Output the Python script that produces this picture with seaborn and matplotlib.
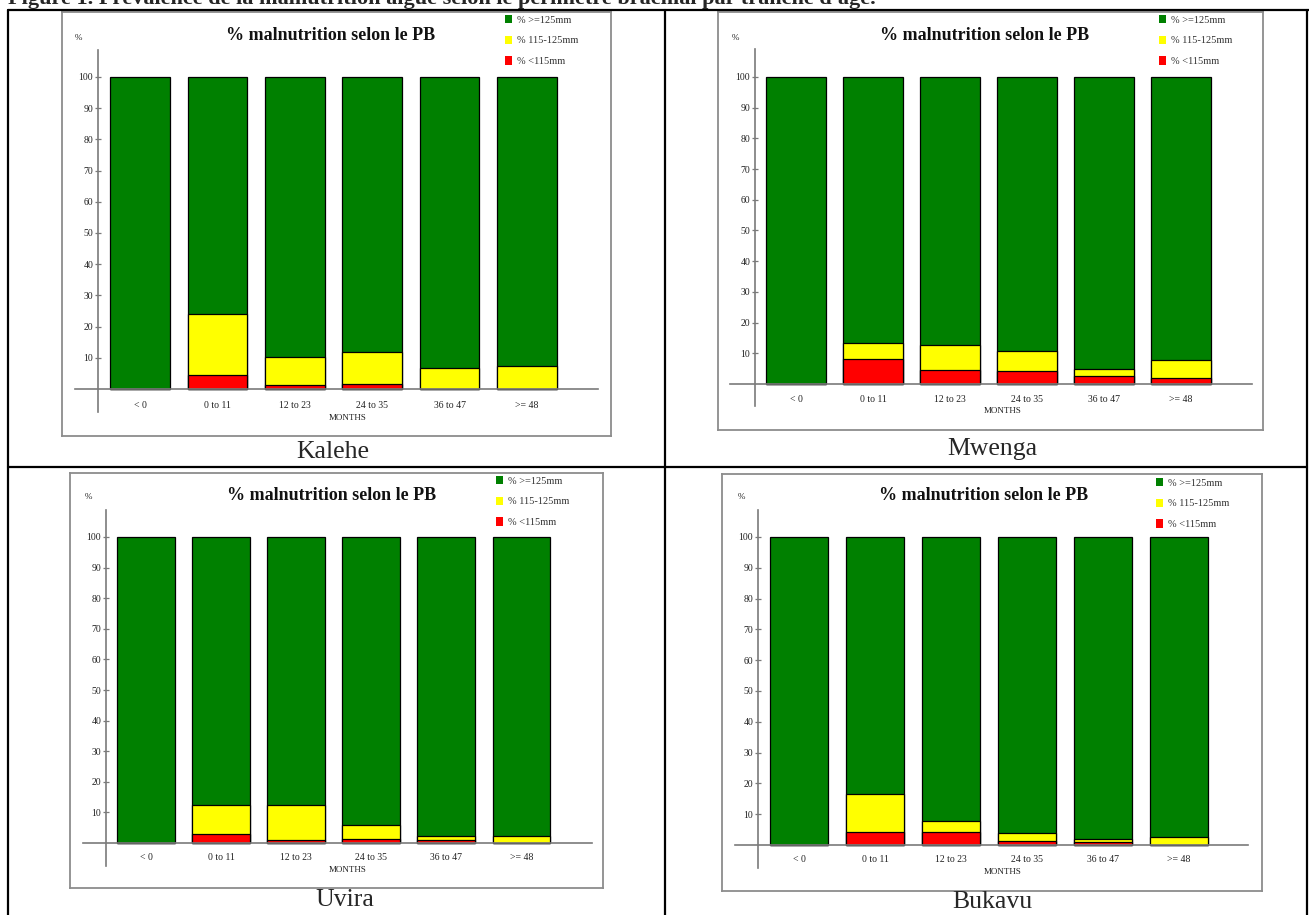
import matplotlib
matplotlib.use("Agg")
import matplotlib.pyplot as plt
from matplotlib.patches import Patch
from matplotlib.lines import Line2D
import seaborn as sns
import pandas as pd

# ---------------------------------------------------------------- data
age_groups = ["< 0", "0 to 11", "12 to 23", "24 to 35", "36 to 47", ">= 48"]
band_labels = ["% >=125mm", "% 115-125mm", "% <115mm"]

kalehe_lt115 = [0, 4.6, 1.4, 1.6, 0, 0]
kalehe_115_125 = [0, 19.5, 8.9, 10.4, 6.7, 7.3]
kalehe_ge125 = [100, 75.9, 89.7, 88.0, 93.3, 92.7]

mwenga_lt115 = [0, 8.3, 4.5, 4.3, 2.6, 1.9]
mwenga_115_125 = [0, 5.2, 8.3, 6.6, 2.4, 5.9]
mwenga_ge125 = [100, 86.5, 87.2, 89.1, 95.0, 92.2]

uvira_lt115 = [0, 2.8, 1.1, 1.3, 0.9, 0]
uvira_115_125 = [0, 9.5, 11.2, 4.7, 1.3, 2.2]
uvira_ge125 = [100, 87.7, 87.7, 94.0, 97.8, 97.8]

bukavu_lt115 = [0, 4.2, 4.2, 1.4, 1.1, 0]
bukavu_115_125 = [0, 12.5, 3.6, 2.5, 0.7, 2.6]
bukavu_ge125 = [100, 83.3, 92.2, 96.1, 98.2, 97.4]

y_ticks = [10, 20, 30, 40, 50, 60, 70, 80, 90, 100]

GREEN, YELLOW, RED = "#008000", "#ffff00", "#ff0000"
AXIS_GREY = "#7a7a7a"

# ---------------------------------------------------------------- layout (pixels)
W, H, DPI = 1309, 915, 100
PX2PT = 72.0 / DPI


def fx(px):
    return px / W


def fy(py):
    return 1.0 - py / H


panels = [
    dict(name="Kalehe", red=kalehe_lt115, yellow=kalehe_115_125, green=kalehe_ge125,
         frame=(62, 12, 611, 436), yx=98, c0=140, dx=77.4, base=389, top=77,
         hx=(75, 598), vy=(50, 412), title=(331, 35), pct=(78, 38),
         leg=(505, 15), label=(333, 452), months=418, ticklab=406),
    dict(name="Mwenga", red=mwenga_lt115, yellow=mwenga_115_125, green=mwenga_ge125,
         frame=(718, 12, 1263, 430), yx=755, c0=796, dx=77.0, base=384, top=77,
         hx=(730, 1252), vy=(49, 406), title=(985, 35), pct=(735, 38),
         leg=(1159, 15), label=(992, 449), months=411, ticklab=400),
    dict(name="Uvira", red=uvira_lt115, yellow=uvira_115_125, green=uvira_ge125,
         frame=(70, 473, 603, 888), yx=106, c0=146, dx=75.1, base=843, top=537,
         hx=(83, 592), vy=(510, 866), title=(332, 495), pct=(88, 497),
         leg=(496, 476), label=(345, 900), months=870, ticklab=858),
    dict(name="Bukavu", red=bukavu_lt115, yellow=bukavu_115_125, green=bukavu_ge125,
         frame=(722, 474, 1262, 891), yx=758, c0=799, dx=76.0, base=845, top=537,
         hx=(735, 1248), vy=(510, 868), title=(984, 495), pct=(741, 497),
         leg=(1156, 478), label=(992, 902), months=872, ticklab=860),
]

sns.set_theme(style="white")
plt.rcParams["font.family"] = ["Liberation Serif", "DejaVu Serif"]

fig = plt.figure(figsize=(W / DPI, H / DPI), dpi=DPI)
fig.patch.set_facecolor("white")

# ---------------------------------------------------------------- document table
table_kw = dict(color="black", linewidth=1.6, transform=fig.transFigure)
for (x0, y0, x1, y1) in [(8, 10, 1309, 10), (8, 467, 1307, 467),
                         (8, 10, 8, 915), (665, 10, 665, 915), (1307, 10, 1307, 915)]:
    fig.add_artist(Line2D([fx(x0), fx(x1)], [fy(y0), fy(y1)], **table_kw))

fig.text(fx(8), fy(4),
         "Figure 1. Prévalence de la malnutrition aigue selon le périmètre brachial par tranche d'âge.",
         ha="left", va="baseline", fontsize=16, fontweight="bold")

# ---------------------------------------------------------------- charts
for p in panels:
    x0, y0, x1, y1 = p["frame"]
    frame = fig.add_axes([fx(x0), fy(y1), (x1 - x0) / W, (y1 - y0) / H])
    frame.set_xticks([])
    frame.set_yticks([])
    frame.set_facecolor("white")
    for sp in frame.spines.values():
        sp.set_color("#8c8c8c")
        sp.set_linewidth(1.3)

    hx0, hx1 = p["hx"]
    vy0, vy1 = p["vy"]
    ax = fig.add_axes([fx(hx0), fy(vy1), (hx1 - hx0) / W, (vy1 - vy0) / H])
    ax.patch.set_alpha(0)

    df = pd.DataFrame({"age": age_groups, "red": p["red"],
                       "yellow": p["yellow"], "green": p["green"]})
    df["top_yellow"] = df["red"] + df["yellow"]
    df["top_green"] = df["top_yellow"] + df["green"]

    # stacked bars: tallest total first, each lower band painted over it
    for col, colour in [("top_green", GREEN), ("top_yellow", YELLOW), ("red", RED)]:
        sns.barplot(data=df, x="age", y=col, order=age_groups, color=colour,
                    saturation=1, width=0.77, edgecolor="black", linewidth=0.9,
                    errorbar=None, ax=ax)

    scale = (p["base"] - p["top"]) / 100.0
    ax.set_ylim(-(vy1 - p["base"]) / scale, (p["base"] - vy0) / scale)
    ax.set_xlim((hx0 - p["c0"]) / p["dx"], (hx1 - p["c0"]) / p["dx"])

    ax.spines["top"].set_visible(False)
    ax.spines["right"].set_visible(False)
    ax.spines["left"].set_position(("data", (p["yx"] - p["c0"]) / p["dx"]))
    ax.spines["bottom"].set_position(("data", 0))
    for side in ("left", "bottom"):
        ax.spines[side].set_color(AXIS_GREY)
        ax.spines[side].set_linewidth(1.2)
        ax.spines[side].set_visible(True)

    ax.set_yticks(y_ticks)
    ax.set_yticklabels([str(v) for v in y_ticks])
    ax.tick_params(axis="y", direction="inout", length=5, width=0.9,
                   color=AXIS_GREY, labelsize=7, pad=1, labelcolor="#222222",
                   left=True)
    ax.tick_params(axis="x", length=0, labelsize=7, labelcolor="#222222",
                   pad=(p["ticklab"] - 5 - p["base"]) * PX2PT)
    ax.set_xlabel("")
    ax.set_ylabel("")

    mid_px = p["c0"] + 2.5 * p["dx"] + 14
    fig.text(fx(mid_px), fy(p["months"]), "MONTHS", ha="center", va="center",
             fontsize=6.5, color="#222222")

    fig.text(fx(p["title"][0]), fy(p["title"][1]), "% malnutrition selon le PB",
             ha="center", va="center", fontsize=13, fontweight="bold", color="#111111")
    fig.text(fx(p["pct"][0]), fy(p["pct"][1]), "%", ha="center", va="center",
             fontsize=6.5, color="#222222")

    handles = [Patch(facecolor=c, edgecolor="none") for c in (GREEN, YELLOW, RED)]
    lx, ly = p["leg"]
    leg = frame.legend(handles, band_labels, loc="upper left",
                       bbox_to_anchor=(fx(lx), fy(ly)), bbox_transform=fig.transFigure,
                       frameon=False, fontsize=7.5, handlelength=0.65, handleheight=0.85,
                       handletextpad=0.5, labelspacing=1.05, borderpad=0,
                       borderaxespad=0)
    for t in leg.get_texts():
        t.set_color("#333333")

    fig.text(fx(p["label"][0]), fy(p["label"][1]), p["name"], ha="center",
             va="center", fontsize=18.5)

fig.savefig("out.png", dpi=DPI)
